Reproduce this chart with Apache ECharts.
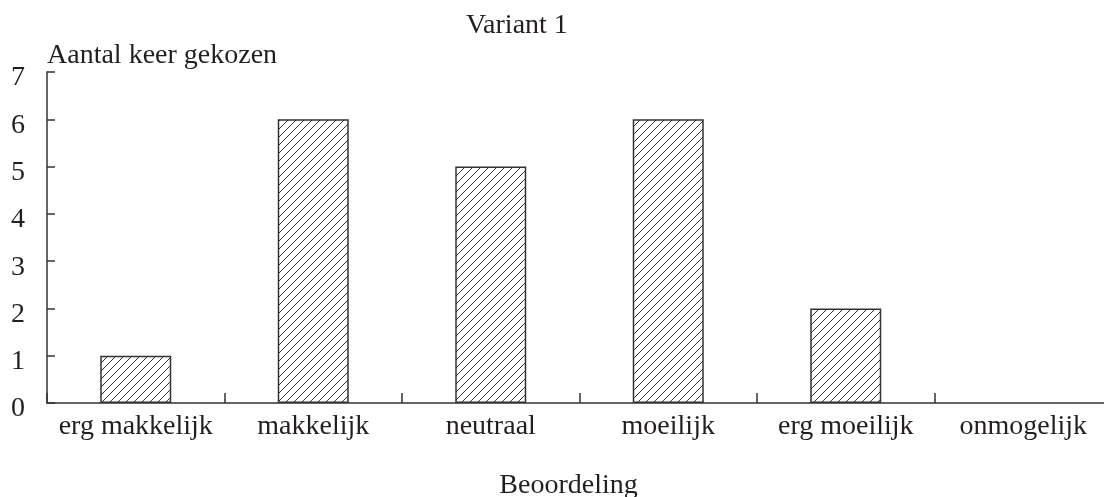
<!DOCTYPE html>
<html>
<head>
<meta charset="utf-8">
<script src="https://cdn.jsdelivr.net/npm/echarts@6/dist/echarts.min.js"></script>
<style>
html,body{margin:0;padding:0;background:#fff;}
#chart{width:1104px;height:497px;}
</style>
</head>
<body>
<div id="chart"></div>
<script>
const categories = ['erg makkelijk', 'makkelijk', 'neutraal', 'moeilijk', 'erg moeilijk', 'onmogelijk'];
const counts = [1, 6, 5, 6, 2, 0];
const yTicks = [0, 7, 1]; // min, max, interval

const FONT = "'Liberation Serif', 'Times New Roman', serif";
const INK = '#231f20';

// hatch pattern
const pc = document.createElement('canvas');
pc.width = 8; pc.height = 8;
const ctx = pc.getContext('2d');
ctx.fillStyle = '#fff';
ctx.fillRect(0, 0, 8, 8);
ctx.strokeStyle = '#333';
ctx.lineWidth = 1;
ctx.beginPath();
ctx.moveTo(0, 8); ctx.lineTo(8, 0);
ctx.moveTo(-4, 4); ctx.lineTo(4, -4);
ctx.moveTo(4, 12); ctx.lineTo(12, 4);
ctx.stroke();

const barData = counts.map(v => ({
  value: v,
  itemStyle: {borderWidth: v === 0 ? 0 : 1.5}
}));

const chart = echarts.init(document.getElementById('chart'), null, {renderer: 'canvas'});
chart.setOption({
  animation: false,
  backgroundColor: '#fff',
  title: {
    text: 'Variant 1',
    left: 461,
    top: 7,
    textStyle: {fontFamily: FONT, fontSize: 28, fontWeight: 'normal', color: INK}
  },
  grid: {left: 47, width: 1065, top: 72, height: 331, containLabel: false, outerBoundsMode: 'none'},
  xAxis: {
    type: 'category',
    data: categories,
    boundaryGap: true,
    name: 'Beoordeling',
    nameLocation: 'middle',
    nameGap: 69,
    nameTextStyle: {fontFamily: FONT, fontSize: 28, color: INK, padding: [0, 22, 0, 0]},
    axisLine: {show: true, lineStyle: {color: '#333', width: 1.5}},
    axisTick: {show: true, inside: true, length: 10, alignWithLabel: false, interval: 0, lineStyle: {color: '#333', width: 1.5}},
    axisLabel: {fontFamily: FONT, fontSize: 28, color: INK, margin: 10, interval: 0}
  },
  yAxis: {
    type: 'value',
    min: yTicks[0],
    max: yTicks[1],
    interval: yTicks[2],
    name: 'Aantal keer gekozen',
    nameLocation: 'end',
    nameGap: 2,
    nameTextStyle: {fontFamily: FONT, fontSize: 28, color: INK, align: 'left', verticalAlign: 'bottom'},
    splitLine: {show: false},
    axisLine: {show: true, lineStyle: {color: '#333', width: 1.5}},
    axisTick: {show: true, inside: true, length: 8, lineStyle: {color: '#333', width: 1.5}},
    axisLabel: {fontFamily: FONT, fontSize: 28, color: INK, margin: 22, verticalAlign: 'top', lineHeight: 12}
  },
  series: [{
    type: 'bar',
    data: barData,
    barWidth: '40%',
    itemStyle: {
      color: {image: pc, repeat: 'repeat'},
      borderColor: '#333',
      borderWidth: 1.5
    }
  }]
});
</script>
</body>
</html>
